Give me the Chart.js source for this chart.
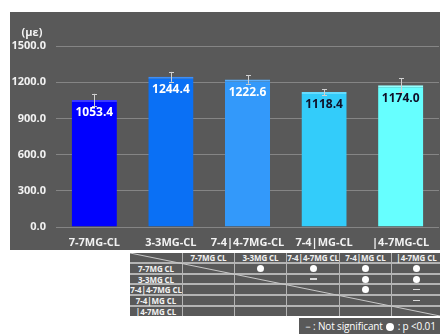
<!DOCTYPE html>
<html>
<head>
<meta charset="utf-8">
<script src="https://cdn.jsdelivr.net/npm/chart.js@4.4.0/dist/chart.umd.min.js"></script>
<style>
  html, body { margin:0; padding:0; background:#ffffff; width:440px; height:334px; overflow:hidden; font-family:"Open Sans", sans-serif; }
  #panel { position:absolute; left:10px; top:12px; width:430px; height:238px; background:#595959; }
  #unit { position:absolute; left:10px; top:24px; width:44px; text-align:center; color:#f2f2f2; font:bold 11px "Open Sans", sans-serif; }
  #sig { position:absolute; left:130px; top:253px; width:310px; height:63px; display:grid;
         grid-template-columns:52px 51px 51px 52px 51px 49px; grid-template-rows:9px 9px 8px 9px 9px 9px;
         column-gap:1px; row-gap:2px; background:#b4b4b4; }
  #sig div { background:#595959; color:#f2f2f2; font:bold 8px "Open Sans", sans-serif; letter-spacing:-0.1px; display:flex; align-items:center; justify-content:center; white-space:nowrap; overflow:visible; }
  .dot { width:7px; height:7px; border-radius:50%; background:#ffffff; }
  .dash { width:7px; height:1.5px; background:#d9d9d9; }
  #diag { position:absolute; left:130px; top:253px; width:310px; height:63px; pointer-events:none; }
  #legend { position:absolute; left:299px; top:318px; width:141px; height:16px; background:#595959; color:#ffffff; font:10px "Open Sans", sans-serif; letter-spacing:-0.15px; line-height:16px; text-align:center; white-space:nowrap; overflow:hidden; }
  #legend .ldot { display:inline-block; width:8px; height:8px; border-radius:50%; background:#ffffff; vertical-align:-0.5px; margin:0 1px; }
</style>
</head>
<body>
<div id="panel"><canvas id="c" width="430" height="238"></canvas></div>
<div id="unit">(με)</div>
<div id="sig"></div>
<svg id="diag" width="310" height="63"><line x1="0" y1="0" x2="310" y2="63" stroke="#c8c8c8" stroke-width="1"/></svg>
<div id="legend">－: Not significant <span class="ldot"></span> : p &lt;0.01</div>
<script>
const categories = ['7-7MG-CL', '3-3MG-CL', '7-4|4-7MG-CL', '7-4|MG-CL', '|4-7MG-CL'];
const means = [1053.4, 1244.4, 1222.6, 1118.4, 1174.0];
const errors = [50, 41, 35, 25, 58];
const barColors = ['#0000FF', '#0A70F5', '#3399FA', '#33CCFA', '#66FFFF'];
const barTopColors = ['#3a3aff', '#3d8ef8', '#5aaefc', '#66dcff', '#99ffff'];
const labelColors = ['#ffffff', '#ffffff', '#ffffff', '#101028', '#101028'];
const yMin = 0, yMax = 1500, yStep = 300;
const tableLabels = ['7-7MG CL', '3-3MG CL', '7-4|4-7MG CL', '7-4|MG CL', '|4-7MG CL'];
const significance = [
  ['', 'dot', 'dot', 'dot', 'dot'],
  ['', '', 'dash', 'dot', 'dot'],
  ['', '', '', 'dot', 'dash'],
  ['', '', '', '', 'dash'],
  ['', '', '', '', '']
];

// significance table
const sig = document.getElementById('sig');
function cell(content) { const d = document.createElement('div'); if (content) d.appendChild(content); sig.appendChild(d); return d; }
cell(null);
tableLabels.forEach(t => cell(document.createTextNode(t)));
significance.forEach((row, r) => {
  cell(document.createTextNode(tableLabels[r]));
  row.forEach(v => {
    let el = null;
    if (v) { el = document.createElement('span'); el.className = v; }
    cell(el);
  });
});

const overlay = {
  id: 'overlay',
  afterDatasetsDraw(chart) {
    const ctx = chart.ctx;
    const meta = chart.getDatasetMeta(0);
    const y = chart.scales.y;
    ctx.save();
    meta.data.forEach((bar, i) => {
      const x = bar.x;
      const t = y.getPixelForValue(means[i] + errors[i]);
      const b = y.getPixelForValue(means[i] - errors[i]);
      ctx.strokeStyle = '#d0d0d0';
      ctx.lineWidth = 1;
      ctx.beginPath();
      ctx.moveTo(Math.round(x) + 0.5, t); ctx.lineTo(Math.round(x) + 0.5, b);
      ctx.moveTo(Math.round(x) - 2, Math.round(t) + 0.5); ctx.lineTo(Math.round(x) + 3, Math.round(t) + 0.5);
      ctx.moveTo(Math.round(x) - 2, Math.round(b) + 0.5); ctx.lineTo(Math.round(x) + 3, Math.round(b) + 0.5);
      ctx.stroke();
      ctx.fillStyle = labelColors[i];
      ctx.font = 'bold 12px "Open Sans", sans-serif';
      ctx.textAlign = 'center';
      ctx.textBaseline = 'middle';
      ctx.fillText(means[i].toFixed(1), x, bar.y + 13);
    });
    ctx.restore();
  }
};

new Chart(document.getElementById('c'), {
  type: 'bar',
  data: {
    labels: categories,
    datasets: [{
      data: means,
      backgroundColor: barColors,
      borderColor: barTopColors,
      borderWidth: { top: 2, left: 0, right: 0, bottom: 0 },
      borderSkipped: 'bottom',
      categoryPercentage: 1,
      barPercentage: 0.59
    }]
  },
  options: {
    responsive: false,
    animation: false,
    devicePixelRatio: 1,
    layout: { padding: { top: 34, right: 1, left: 0, bottom: 0 } },
    plugins: { legend: { display: false }, tooltip: { enabled: false } },
    scales: {
      x: {
        grid: { display: false, drawTicks: false },
        border: { display: false },
        ticks: { color: '#f2f2f2', font: { family: 'Open Sans', weight: 'bold', size: 11 }, padding: 9, maxRotation: 0, autoSkip: false },
        afterFit(s) { s.height = 23; }
      },
      y: {
        min: yMin, max: yMax,
        grid: { color: '#858585', drawTicks: false, lineWidth: 1 },
        border: { display: false },
        ticks: { stepSize: yStep, color: '#f2f2f2', font: { family: 'Open Sans', weight: 'bold', size: 11 }, padding: 10,
                 callback: v => Number(v).toFixed(1) },
        afterFit(s) { s.width = 46; }
      }
    }
  },
  plugins: [overlay]
});
</script>
</body>
</html>
